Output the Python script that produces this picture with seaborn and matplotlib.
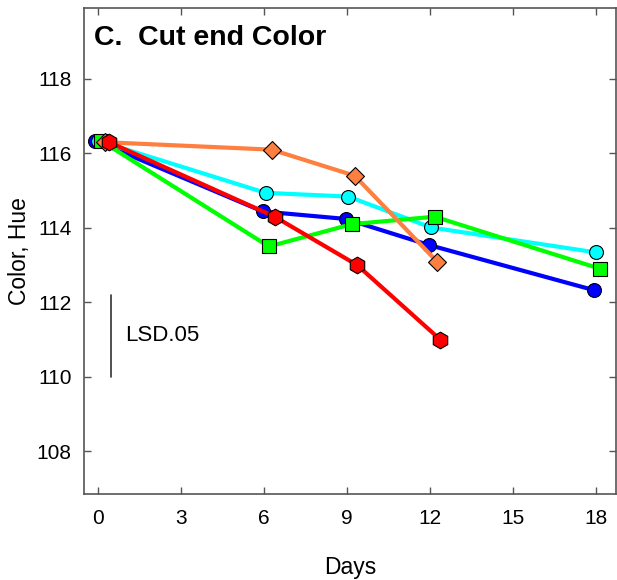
import pandas as pd
import seaborn as sns
import matplotlib.pyplot as plt

# days (slightly dodged per series, as plotted) and hue values
blue_days = [-0.1, 5.95, 8.94, 11.95, 17.9]
blue_hue = [116.34, 114.44, 114.24, 113.54, 112.33]
cyan_days = [0.0, 6.05, 9.04, 12.03, 17.99]
cyan_hue = [116.34, 114.94, 114.84, 114.01, 113.34]
green_days = [0.1, 6.17, 9.17, 12.16, 18.14]
green_hue = [116.34, 113.5, 114.1, 114.3, 112.9]
orange_days = [0.25, 6.27, 9.27, 12.25]
orange_hue = [116.3, 116.1, 115.4, 113.09]
red_days = [0.4, 6.38, 9.36, 12.36]
red_hue = [116.3, 114.3, 113.0, 111.0]

lsd_value = 2.2
lsd_base = 110.0
x_ticks = [0, 3, 6, 9, 12, 15, 18]
y_ticks = [108, 110, 112, 114, 116, 118]

series = [
    ('blue', blue_days, blue_hue, '#0000FF', 'o', 10),
    ('cyan', cyan_days, cyan_hue, '#00FFFF', 'o', 10),
    ('green', green_days, green_hue, '#00FF00', 's', 10.5),
    ('orange', orange_days, orange_hue, '#FF7F40', 'D', 9.5),
    ('red', red_days, red_hue, '#FF0000', 'h', 12),
]

sns.set_style('ticks')
plt.rcParams['font.family'] = ['Liberation Sans', 'DejaVu Sans']
plt.rcParams['text.color'] = 'black'
plt.rcParams['axes.labelcolor'] = 'black'

fig = plt.figure(figsize=(6.17, 5.8), dpi=100)
ax = fig.add_axes([0.136, 0.148, 0.862, 0.838])

for name, days, hue, color, marker, ms in series:
    df = pd.DataFrame({'Days': days, 'Hue': hue})
    sns.lineplot(data=df, x='Days', y='Hue', ax=ax, color=color, linewidth=3,
                 marker=marker, markersize=ms, markeredgecolor='black',
                 markeredgewidth=0.8, sort=False, estimator=None)

# LSD bar
ax.plot([0.48, 0.48], [lsd_base, lsd_base + lsd_value], color='#333333', linewidth=1.2)
ax.text(0.98, lsd_base + lsd_value / 2, 'LSD.05', fontsize=16, va='center', ha='left')

ax.text(-0.15, 119.1, 'C.  Cut end Color', fontsize=20.5, fontweight='bold', va='center', ha='left')

ax.set_xlim(-0.51, 18.7)
ax.set_ylim(106.85, 119.9)
ax.set_xticks(x_ticks)
ax.set_yticks(y_ticks)
ax.set_xlabel('Days', fontsize=16.5, labelpad=20)
ax.set_ylabel('Color, Hue', fontsize=16.5, labelpad=4)
ax.tick_params(direction='in', length=5, width=1, color='#555555', labelsize=15,
               labelcolor='black', top=True, right=True)
ax.tick_params(axis='x', pad=11)
ax.tick_params(axis='y', pad=9)
for s in ax.spines.values():
    s.set_color('#555555')
    s.set_linewidth(1.2)

fig.savefig('out.png', dpi=100)
